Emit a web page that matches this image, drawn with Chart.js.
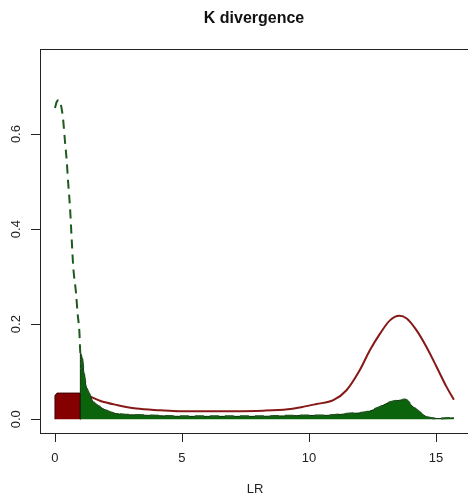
<!DOCTYPE html>
<html>
<head>
<meta charset="utf-8">
<script src="https://cdn.jsdelivr.net/npm/chart.js@4/dist/chart.umd.min.js"></script>
<style>
  html, body { margin: 0; padding: 0; background: #fff; overflow: hidden; }
  canvas { display: block; }
</style>
</head>
<body>
<canvas id="kdivChart" width="484" height="498"></canvas>
<script>
// K divergence density plot

// Dashed density curve (green), also the top of the filled area from LR = 1 on
const greenX = [0, 0.07, 0.15, 0.31, 0.39, 0.46, 0.52, 0.59, 0.66, 0.72, 0.83, 0.89, 0.96, 1.0,
    1.06, 1.11, 1.18, 1.25, 1.38, 1.51, 1.77, 2.17, 2.68, 3.2, 3.74, 4.3, 4.92, 5.5, 6, 7, 8, 9,
    10, 10.5, 11, 11.6, 12.27, 12.8, 13.19, 13.58, 13.78, 14.1, 14.44, 14.7, 15.16, 15.71];
const greenY = [0.655, 0.668, 0.672, 0.636, 0.587, 0.545, 0.497, 0.447, 0.377, 0.320, 0.265, 0.223, 0.185, 0.139,
    0.131, 0.110, 0.082, 0.065, 0.050, 0.036, 0.026, 0.015, 0.010, 0.009, 0.008, 0.007, 0.006, 0.006, 0.006, 0.006, 0.006, 0.007,
    0.008, 0.008, 0.009, 0.012, 0.015, 0.026, 0.036, 0.040, 0.0415, 0.026, 0.012, 0.0035, 0.0015, 0.003];

// Red density curve
const redX = [1.0, 1.42, 1.77, 2.43, 3.2, 4.13, 4.92, 6, 7, 8.2, 9.17, 9.76, 10.3, 10.96, 11.48,
    12.0, 12.4, 12.8, 13.19, 13.56, 13.85, 14.24, 14.63, 15.03, 15.42, 15.71];
const redY = [0.055, 0.047, 0.039, 0.030, 0.0225, 0.019, 0.017, 0.017, 0.017, 0.018, 0.021, 0.026, 0.032, 0.040, 0.061,
    0.103, 0.145, 0.180, 0.208, 0.2175, 0.212, 0.187, 0.152, 0.110, 0.068, 0.041];

// Red block between 0 and 1
const blockX = [0, 0, 0.08, 1, 1];
const blockY = [0, 0.05, 0.055, 0.055, 0];

// Axis ticks
const xTicks = [0, 5, 10, 15];
const yTicks = [0.0, 0.2, 0.4, 0.6];
const yTickLabels = ['0.0', '0.2', '0.4', '0.6'];

const toPoints = (xs, ys) => xs.map((x, i) => ({ x: x, y: ys[i] }));

// filled part of the green curve starts at LR = 1, dropping to the baseline
const fillStart = greenX.indexOf(1.0);
const greenFill = [{ x: 1.0, y: 0 }].concat(toPoints(greenX.slice(fillStart), greenY.slice(fillStart)));

// R style box, ticks and labels
const baseAxes = {
    id: 'baseAxes',
    afterDraw(chart) {
        const ctx = chart.ctx;
        const a = chart.chartArea;
        const xs = chart.scales.x, ys = chart.scales.y;
        ctx.save();
        ctx.strokeStyle = '#222';
        ctx.lineWidth = 1;
        ctx.strokeRect(Math.round(a.left) + 0.5, Math.round(a.top) + 0.5,
            Math.round(a.right - a.left), Math.round(a.bottom - a.top));

        ctx.fillStyle = '#222';
        ctx.font = '13px "Liberation Sans", Arial, sans-serif';
        ctx.textAlign = 'center';
        ctx.textBaseline = 'middle';

        // x axis
        ctx.beginPath();
        xTicks.forEach(v => {
            const px = Math.round(xs.getPixelForValue(v)) + 0.5;
            ctx.moveTo(px, a.bottom);
            ctx.lineTo(px, a.bottom + 9);
        });
        ctx.stroke();
        xTicks.forEach(v => ctx.fillText(String(v), xs.getPixelForValue(v), a.bottom + 25));

        // y axis, labels turned to read upwards
        ctx.beginPath();
        yTicks.forEach(v => {
            const py = Math.round(ys.getPixelForValue(v)) + 0.5;
            ctx.moveTo(a.left, py);
            ctx.lineTo(a.left - 9, py);
        });
        ctx.stroke();
        yTicks.forEach((v, i) => {
            ctx.save();
            ctx.translate(a.left - 24, ys.getPixelForValue(v));
            ctx.rotate(-Math.PI / 2);
            ctx.fillText(yTickLabels[i], 0, 0);
            ctx.restore();
        });

        ctx.fillText('LR', 255, 489);

        ctx.font = 'bold 16px "Liberation Sans", Arial, sans-serif';
        ctx.fillStyle = '#111';
        ctx.fillText('K divergence', 254, 19);
        ctx.restore();
    }
};

const ctxKdiv = document.getElementById('kdivChart').getContext('2d');
const kdivChart = new Chart(ctxKdiv, {
    type: 'line',
    data: {
        datasets: [{
            label: 'dashed density',
            data: toPoints(greenX, greenY),
            borderColor: '#1d5a1d',
            borderWidth: 2,
            borderDash: [9, 6],
            pointRadius: 0,
            fill: false,
            cubicInterpolationMode: 'monotone',
            order: 0
        }, {
            label: 'green area',
            data: greenFill,
            borderColor: '#0c2f0c',
            borderWidth: 1,
            backgroundColor: '#0b630b',
            pointRadius: 0,
            fill: 'origin',
            cubicInterpolationMode: 'monotone',
            order: 1
        }, {
            label: 'red block',
            data: toPoints(blockX, blockY),
            borderColor: '#3a0000',
            borderWidth: 1,
            backgroundColor: '#850000',
            pointRadius: 0,
            fill: 'origin',
            order: 2
        }, {
            label: 'red density',
            data: toPoints(redX, redY),
            borderColor: '#861818',
            borderWidth: 2,
            pointRadius: 0,
            fill: false,
            cubicInterpolationMode: 'monotone',
            order: 3
        }]
    },
    options: {
        responsive: false,
        animation: false,
        layout: { padding: { left: 40, top: 49, right: 8, bottom: 65 } },
        plugins: { legend: { display: false }, tooltip: { enabled: false } },
        scales: {
            x: { type: 'linear', min: -0.59, max: 16.58, display: false },
            y: { type: 'linear', min: -0.029, max: 0.779, display: false }
        }
    },
    plugins: [baseAxes]
});
</script>
</body>
</html>
